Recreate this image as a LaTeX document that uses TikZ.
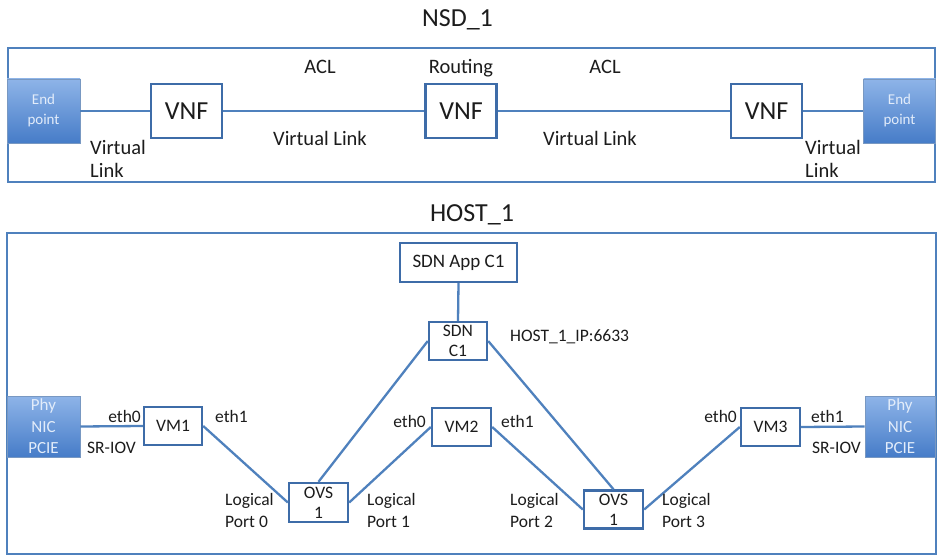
\documentclass[tikz,border=0pt]{standalone}
\usepackage{fontspec}
\setmainfont{Carlito}
\definecolor{lineblue}{RGB}{79,129,189}
\definecolor{boxblue}{RGB}{62,108,168}
\definecolor{eptop}{RGB}{142,180,232}
\definecolor{epbot}{RGB}{70,124,200}
\definecolor{eptext}{RGB}{226,236,250}
\definecolor{txt}{RGB}{28,28,28}
\begin{document}
\begin{tikzpicture}[x=1pt,y=-1pt,
  frame/.style={draw=lineblue, line width=2.4pt},
  box/.style={draw=boxblue, line width=2.4pt, fill=white, inner sep=0pt, align=center, text=txt},
  vnf/.style={box, minimum width=71pt, minimum height=54pt, font=\fontsize{26}{30}\selectfont},
  hbox/.style={box, minimum width=59pt, minimum height=38pt, font=\fontsize{17.5}{20}\selectfont},
  ep/.style={draw=boxblue!70, line width=0.6pt, top color=eptop, bottom color=epbot, text=eptext, inner sep=0pt, align=center},
  link/.style={draw=lineblue, line width=2.3pt},
  lbl/.style={inner sep=0pt, text=txt, font=\fontsize{17.5}{21.5}\selectfont, align=left},
  nlbl/.style={inner sep=0pt, text=txt, font=\fontsize{20.5}{23}\selectfont, align=left},
  ttl/.style={inner sep=0pt, text=txt, font=\fontsize{26}{30}\selectfont}
]
\useasboundingbox (0,0) rectangle (940,556);
\fill[white] (0,0) rectangle (940,556);

% ---------- NSD_1 ----------
\node[ttl, anchor=base] (nsdtitle) at (457.5,27) {NSD\_1};
\draw[frame] (8,48) rectangle (935,182);

\node[ep, minimum width=73pt, minimum height=64pt, font=\fontsize{15}{20}\selectfont] (ep1) at (43.5,111) {End\\point};
\node[ep, minimum width=72pt, minimum height=64pt, font=\fontsize{15}{20}\selectfont] (ep2) at (899.5,111) {End\\point};
\node[vnf] (vnf1) at (186.5,111) {VNF};
\node[vnf] (vnf2) at (461,111) {VNF};
\node[vnf] (vnf3) at (766.5,111) {VNF};

\draw[link] (ep1.east) -- (vnf1.west);
\draw[link] (vnf1.east) -- (vnf2.west);
\draw[link] (vnf2.east) -- (vnf3.west);
\draw[link] (vnf3.east) -- (ep2.west);

\node[nlbl, anchor=base] (acl1) at (320,74) {ACL};
\node[nlbl, anchor=base] (routing) at (461,74) {Routing};
\node[nlbl, anchor=base] (acl2) at (605,74) {ACL};
\node[nlbl, anchor=base] (vl1) at (320,146) {Virtual Link};
\node[nlbl, anchor=base] (vl2) at (590,146) {Virtual Link};
\node[nlbl, anchor=base west] (vll) at (90,178) {Virtual\\Link};
\node[nlbl, anchor=base west] (vlr) at (805,178) {Virtual\\Link};

% ---------- HOST_1 ----------
\node[ttl, anchor=base] (hosttitle) at (472,222) {HOST\_1};
\draw[frame] (7,233) rectangle (936,554);

\node[box, minimum width=117pt, minimum height=39pt, font=\fontsize{19}{22}\selectfont] (app) at (458.5,262.5) {SDN App C1};
\node[hbox, minimum width=58pt] (sdnc) at (458,341) {SDN\\C1};
\node[hbox, minimum width=58pt] (vm1) at (173,426) {VM1};
\node[hbox] (vm2) at (461.5,427) {VM2};
\node[hbox] (vm3) at (770.5,427) {VM3};
\node[hbox, minimum height=39pt] (ovs1) at (318.5,502.5) {OVS\\1};
\node[hbox] (ovs2) at (613.5,509.5) {OVS\\1};
\node[ep, minimum width=73pt, minimum height=61pt, font=\fontsize{17}{21.5}\selectfont] (phy1) at (43.5,426.5) {Phy\\NIC\\PCIE};
\node[ep, minimum width=70pt, minimum height=61pt, font=\fontsize{17}{21.5}\selectfont] (phy2) at (900,426.5) {Phy\\NIC\\PCIE};

\draw[link] (app.south) -- (sdnc.north);
\draw[link] (sdnc.west) -- (ovs1.north);
\draw[link] (sdnc.east) -- (ovs2.north);
\draw[link] (phy1.east) -- (vm1.west);
\draw[link] (vm1.east) -- (ovs1.west);
\draw[link] (ovs1.east) -- (vm2.west);
\draw[link] (vm2.east) -- (ovs2.west);
\draw[link] (ovs2.east) -- (vm3.west);
\draw[link] (vm3.east) -- (phy2.west);

\node[lbl, anchor=base west] (ip) at (510,341) {HOST\_1\_IP:6633};
\node[lbl, anchor=base east] (e0a) at (141,422) {eth0};
\node[lbl, anchor=base west] (sra) at (87,453) {SR-IOV};
\node[lbl, anchor=base west] (e1a) at (215,422) {eth1};
\node[lbl, anchor=base east] (e0b) at (426,427) {eth0};
\node[lbl, anchor=base west] (e1b) at (501,427) {eth1};
\node[lbl, anchor=base east] (e0c) at (737,422) {eth0};
\node[lbl, anchor=base west] (e1c) at (811,422) {eth1};
\node[lbl, anchor=base west] (srb) at (812,453) {SR-IOV};
\node[lbl, anchor=base west] (lp0) at (225,527) {Logical\\Port 0};
\node[lbl, anchor=base west] (lp1) at (367,527) {Logical\\Port 1};
\node[lbl, anchor=base west] (lp2) at (510,527) {Logical\\Port 2};
\node[lbl, anchor=base west] (lp3) at (662,527) {Logical\\Port 3};
\end{tikzpicture}
\end{document}
